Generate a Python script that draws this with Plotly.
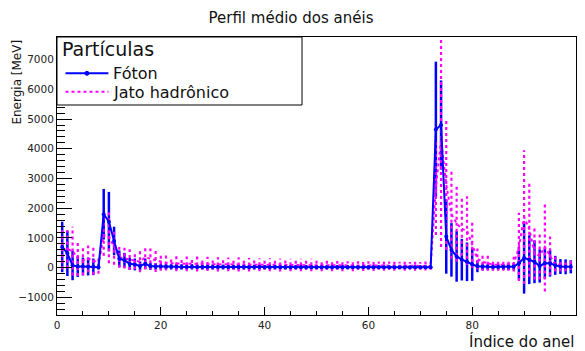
import plotly.graph_objects as go

rings = list(range(1, 100))

foton_mean = [700, 480, 80, 40, 40, 40, 30, 20, 1800, 1550, 900, 300, 250, 130, 110, 60, 130, 50, 50, 40,
              35, 30, 30, 28, 25, 30, 28, 25, 25, 28,
              25, 25, 22, 25, 25, 22, 20, 22, 25, 20,
              20, 22, 20, 20, 18, 20, 20, 18, 20, 18,
              18, 20, 18, 18, 15, 18, 18, 15, 18, 15,
              15, 18, 15, 15, 15, 15, 15, 12, 15, 15, 15, 15,
              4650, 4800, 1050, 600, 380, 270, 200, 110,
              50, 30, 30, 25, 25, 25, 30, 40, 150, 330,
              270, 200, 60, 150, 150, 80, 40, 30, 30]
foton_err = [850, 760, 500, 350, 300, 300, 280, 80, 850, 1000, 480, 280, 250, 200, 200, 150, 180, 120, 110, 100,
             95, 90, 95, 90, 85, 90, 85, 85, 90, 85,
             85, 80, 85, 80, 80, 85, 80, 80, 80, 75,
             80, 75, 75, 80, 75, 75, 70, 75, 75, 70,
             70, 75, 70, 70, 70, 65, 70, 65, 65, 70,
             65, 65, 60, 65, 60, 60, 65, 60, 60, 60, 60, 60,
             2280, 1500, 1250, 900, 850, 700, 650, 550,
             200, 120, 110, 110, 100, 100, 110, 130, 550, 1200,
             820, 720, 560, 530, 450, 320, 250, 250, 220]
jato_mean = [650, 620, 560, 320, 250, 300, 260, 100, 1100, 1050, 700, 350, 320, 270, 250, 200, 350, 300, 260, 200,
             160, 150, 140, 150, 130, 140, 130, 120, 130, 120,
             110, 120, 110, 100, 110, 100, 100, 110, 100, 95,
             100, 95, 90, 100, 90, 90, 95, 85, 90, 85,
             80, 85, 80, 80, 75, 80, 75, 75, 70, 75,
             70, 70, 75, 70, 65, 70, 65, 65, 70, 60, 65, 60,
             2700, 4300, 2800, 1800, 1500, 1300, 1250, 800,
             300, 200, 150, 100, 100, 100, 100, 120, 700, 1700,
             1300, 500, 400, 700, 400, 120, 80, 80, 80]
jato_err = [700, 650, 820, 600, 500, 450, 500, 300, 700, 900, 600, 350, 350, 350, 300, 350, 400, 350, 400, 300,
            250, 180, 260, 190, 250, 180, 260, 180, 240, 180,
            240, 170, 230, 170, 240, 170, 230, 170, 220, 160,
            220, 160, 220, 160, 210, 160, 210, 150, 210, 150,
            200, 150, 200, 150, 190, 140, 190, 140, 180, 140,
            180, 140, 180, 140, 170, 130, 170, 130, 170, 130, 160, 130,
            1600, 3600, 2200, 1500, 1300, 1100, 1150, 800,
            350, 300, 250, 200, 200, 200, 200, 250, 1150, 2250,
            1600, 900, 800, 1500, 650, 250, 200, 200, 150]

series_names = ["Fóton", "Jato hadrônico"]
legend_title = "Partículas"

BLUE = "#0000ff"
MAGENTA = "#ff00ff"
DOT = "3px,3px"


def bar_segments(xs, means, errs):
    sx, sy = [], []
    for x, m, e in zip(xs, means, errs):
        sx += [x, x, None]
        sy += [m - e, m + e, None]
    return sx, sy


fig = go.Figure()

bx, by = bar_segments(rings, foton_mean, foton_err)
fig.add_trace(go.Scatter(x=bx, y=by, mode="lines", line=dict(color=BLUE, width=2.5),
                         showlegend=False, hoverinfo="skip"))
jx, jy = bar_segments(rings, jato_mean, jato_err)
fig.add_trace(go.Scatter(x=jx, y=jy, mode="lines", line=dict(color=MAGENTA, width=2.2, dash=DOT),
                         showlegend=False, hoverinfo="skip"))
fig.add_trace(go.Scatter(x=rings, y=jato_mean, mode="lines", name=series_names[1], showlegend=False,
                         line=dict(color=MAGENTA, width=2, dash=DOT)))
fig.add_trace(go.Scatter(x=rings, y=foton_mean, mode="lines+markers", name=series_names[0], showlegend=False,
                         line=dict(color=BLUE, width=2), marker=dict(color=BLUE, size=4)))

# page body has an 8px margin; all screen positions below are shifted by it
OFF = 8
W, H = 585 - OFF, 351 - OFF
PL, PR, PT, PB = 56.5, 576.5, 37, 315          # plot frame in screen pixels
PW, PH = PR - PL, PB - PT


def px(sx):
    return (sx - PL) / PW


def py(sy):
    return (PB - sy) / PH


shapes = [
    dict(type="rect", xref="paper", yref="paper", x0=0, x1=px(302), y0=py(105), y1=1,
         line=dict(color="black", width=1), fillcolor="white", layer="above"),
    dict(type="line", xref="paper", yref="paper", x0=px(65), x1=px(108), y0=py(73.3), y1=py(73.3),
         line=dict(color=BLUE, width=2), layer="above"),
    dict(type="circle", xref="paper", yref="paper", x0=px(84.5), x1=px(88.5), y0=py(75.3), y1=py(71.3),
         line=dict(color=BLUE, width=1), fillcolor=BLUE, layer="above"),
    dict(type="line", xref="paper", yref="paper", x0=px(65), x1=px(108), y0=py(91.7), y1=py(91.7),
         line=dict(color=MAGENTA, width=2, dash=DOT), layer="above"),
]

annotations = [
    dict(text=legend_title, xref="paper", yref="paper", x=px(60), y=py(49), xanchor="left",
         yanchor="middle", showarrow=False, font=dict(size=19, color="#111")),
    dict(text=series_names[0], xref="paper", yref="paper", x=px(110.5), y=py(74), xanchor="left",
         yanchor="middle", showarrow=False, font=dict(size=16, color="#111")),
    dict(text=series_names[1], xref="paper", yref="paper", x=px(110.5), y=py(92.5), xanchor="left",
         yanchor="middle", showarrow=False, font=dict(size=16, color="#111")),
    dict(text="Energia [MeV]", textangle=-90, xref="paper", yref="paper",
         x=px(15.5), y=py(38), xanchor="center", yanchor="top",
         showarrow=False, font=dict(size=12, color="#111")),
    dict(text="Índice do anel", xref="paper", yref="paper",
         x=1.0, y=py(341), xanchor="right", yanchor="middle",
         showarrow=False, font=dict(size=15, color="#111")),
]

fig.update_layout(
    width=W, height=H,
    margin=dict(l=PL - OFF, r=W - (PR - OFF), t=PT - OFF, b=H - (PB - OFF), autoexpand=False),
    paper_bgcolor="white", plot_bgcolor="white",
    font=dict(family="DejaVu Sans", color="#222"),
    showlegend=False,
    title=dict(text="Perfil médio dos anéis", x=(291 - OFF) / W, xanchor="center",
               y=1 - (18 - OFF) / H, yanchor="middle", font=dict(size=15, color="#111")),
    xaxis=dict(range=[0, 100], showgrid=False, zeroline=False, automargin=False,
               showline=True, linecolor="black", linewidth=1, mirror=True,
               ticks="inside", ticklen=8, tickcolor="black", dtick=20, tick0=0,
               tickfont=dict(size=10.5, color="#222"),
               minor=dict(ticks="inside", ticklen=4, dtick=5, tickcolor="black", showgrid=False)),
    yaxis=dict(range=[-1590, 7760], showgrid=False, zeroline=False, automargin=False,
               showline=True, linecolor="black", linewidth=1, mirror=True,
               ticks="inside", ticklen=15, tickcolor="black", dtick=1000, tick0=0,
               tickfont=dict(size=10.5, color="#222"),
               minor=dict(ticks="inside", ticklen=8, dtick=200, tickcolor="black", showgrid=False)),
    shapes=shapes,
    annotations=annotations,
)

fig.write_html("out.html")
